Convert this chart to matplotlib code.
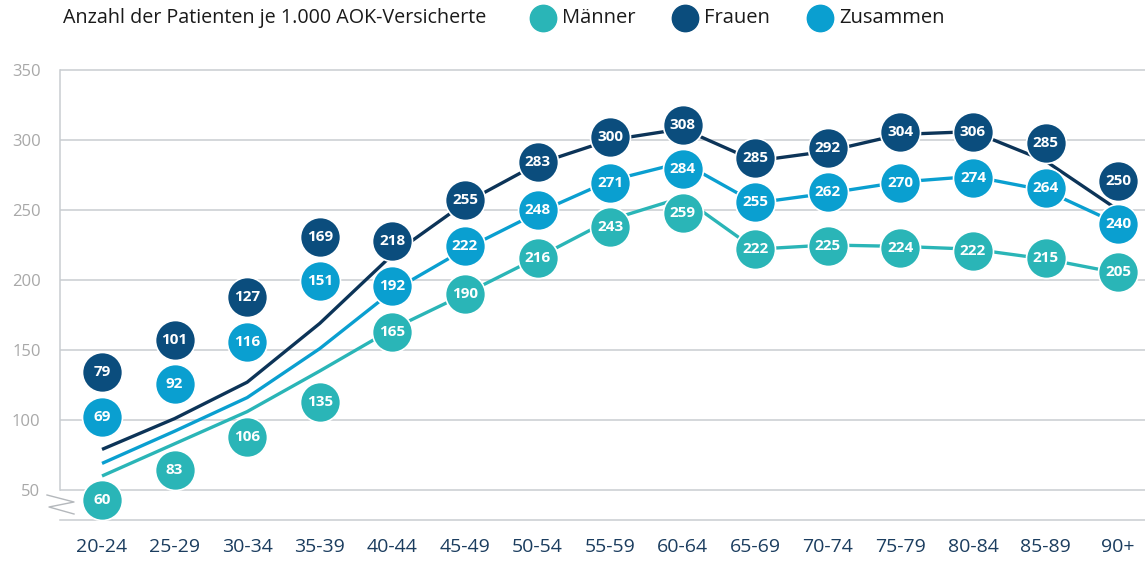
import matplotlib.pyplot as plt
from matplotlib.lines import Line2D

plt.rcParams['font.family'] = ['Open Sans', 'DejaVu Sans']

# --- data ---
age_groups = ["20-24", "25-29", "30-34", "35-39", "40-44", "45-49", "50-54", "55-59",
              "60-64", "65-69", "70-74", "75-79", "80-84", "85-89", "90+"]
maenner = [60, 83, 106, 135, 165, 190, 216, 243, 259, 222, 225, 224, 222, 215, 205]
frauen = [79, 101, 127, 169, 218, 255, 283, 300, 308, 285, 292, 304, 306, 285, 250]
zusammen = [69, 92, 116, 151, 192, 222, 248, 271, 284, 255, 262, 270, 274, 264, 240]

# label bubbles are shifted off the line where the lines crowd together
off_maenner = [-17, -19, -18, -22, -2, 0, 0, -5, -11, 0, -1, -1, -1, 1, 1]
off_frauen = [55, 56, 61, 62, 10, 2, 1, 2, 3, 2, 2, 2, 0, 13, 21]
off_zusammen = [33, 34, 40, 48, 4, 2, 2, -2, -5, 1, 1, -1, -1, 2, 0]

c_maenner = "#2ab5b7"
c_frauen = "#0b4d7d"
c_frauen_line = "#0c3458"
c_zusammen = "#0a9fd0"
grid_c = "#c9cdd1"

W, H = 1145, 562
fig = plt.figure(figsize=(W / 100, H / 100), dpi=100)
ax = fig.add_axes([60 / W, 1 - 520 / H, 1 - 60 / W, 460 / H])

x = list(range(len(age_groups)))
ax.set_xlim(-0.579, 14.37)
ax.set_ylim(28.57, 357.14)

for y in [50, 100, 150, 200, 250, 300, 350]:
    ax.axhline(y, color=grid_c, lw=1.1, zorder=0)

for s in ["top", "right"]:
    ax.spines[s].set_visible(False)
ax.spines["left"].set_bounds(50, 350)
ax.spines["left"].set_color(grid_c)
ax.spines["bottom"].set_color(grid_c)
ax.spines["left"].set_linewidth(1.1)
ax.spines["bottom"].set_linewidth(1.1)

ax.set_yticks([50, 100, 150, 200, 250, 300, 350])
ax.tick_params(axis="y", length=0, pad=14, labelsize=12, labelcolor="#a8a8a8")
ax.set_xticks(x)
ax.set_xticklabels(age_groups)
ax.tick_params(axis="x", length=0, pad=13, labelsize=14, labelcolor="#1b3d5f")

# axis break mark
def px(xp, yp):
    return ax.transData.inverted().transform(fig.transFigure.transform((xp / W, 1 - yp / H)))

pts = [px(*p) for p in [(47, 495), (74, 502), (49, 507), (74, 514)]]
ax.add_line(Line2D([p[0] for p in pts], [p[1] for p in pts], color="#b4b8bc",
                   lw=1, clip_on=False))

# lines
ax.plot(x, maenner, color=c_maenner, lw=2.4, zorder=2, solid_capstyle="butt")
ax.plot(x, zusammen, color=c_zusammen, lw=2.4, zorder=2, solid_capstyle="butt")
ax.plot(x, frauen, color=c_frauen_line, lw=2.4, zorder=2, solid_capstyle="butt")

# bubbles
for vals, offs, col in [(frauen, off_frauen, c_frauen),
                        (zusammen, off_zusammen, c_zusammen),
                        (maenner, off_maenner, c_maenner)]:
    ys = [v + o for v, o in zip(vals, offs)]
    ax.scatter(x, ys, s=830, color=col, edgecolors="white", linewidths=1.2,
               zorder=3, clip_on=False)
    for xi, yi, v in zip(x, ys, vals):
        ax.text(xi, yi, str(v), color="white", fontsize=11, fontweight="bold",
                ha="center", va="center", zorder=4)

# header and legend
fig.text(63 / W, 1 - 18 / H, "Anzahl der Patienten je 1.000 AOK-Versicherte",
         fontsize=14.2, color="#1a1a1a", ha="left", va="center")
for xp, lab, col in [(543, "Männer", c_maenner), (685, "Frauen", c_frauen),
                     (820, "Zusammen", c_zusammen)]:
    fig.add_artist(Line2D([xp / W], [1 - 18 / H], marker="o", markersize=19,
                          color=col, linestyle="none"))
    fig.text((xp + 19) / W, 1 - 18 / H, lab, fontsize=14.5, color="#1a1a1a",
             ha="left", va="center")

fig.savefig("out.png", dpi=100)
